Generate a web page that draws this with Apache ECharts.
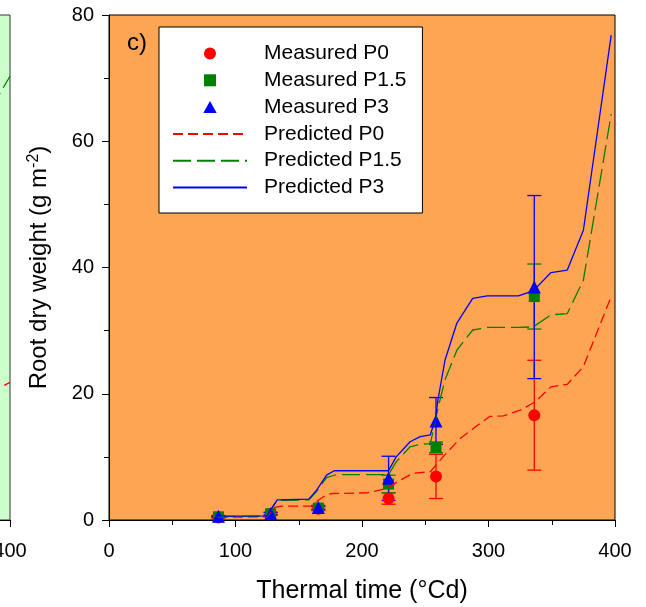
<!DOCTYPE html>
<html>
<head>
<meta charset="utf-8">
<script src="https://cdn.jsdelivr.net/npm/echarts@6/dist/echarts.min.js"></script>
<style>html,body{margin:0;padding:0;background:#fff}#c{width:646px;height:607px}</style>
</head>
<body>
<div id="c"></div>
<script>
// Measured thermal times (°Cd)
var measX = [86.5, 127.8, 165.5, 221, 258.5, 336.2];
// Measured root dry weight (g m-2) and SD
var measP0  = [0.4, 1.0, 1.8, 3.4, 6.9, 16.6];
var sdP0    = [0.1, 0.2, 0.3, 0.9, 3.5, 8.7];
var measP15 = [0.5, 1.0, 1.9, 5.7, 11.5, 35.4];
var sdP15   = [0.1, 0.2, 0.3, 1.4, 0.85, 5.15];
var measP3  = [0.6, 1.0, 2.0, 6.6, 15.7, 36.9];
var sdP3    = [0.1, 0.2, 0.3, 3.5, 3.7, 14.5];
// Predicted curves [thermal time, weight]
var predP0 = [[86,0.45],[125,0.5],[131,2.0],[136,2.2],[160,2.2],[166,3.2],[172,4.0],[177,4.2],[204,4.3],[219.5,5.0],[230,6.3],[240.5,7.4],[254,7.65],[264,10],[277.5,12.9],[290,14.8],[301,16.4],[311.7,16.5],[325,17.4],[336.8,18.7],[349.4,21.1],[362.3,21.5],[375,24.3],[397,35.4]];
var predP15 = [[86,0.55],[125,0.6],[129,1.9],[133,3.1],[158,3.2],[164,4.5],[172,6.7],[180,7.2],[221,7.2],[227,9.2],[238,11.6],[246,12.0],[254,12.1],[260.3,17.9],[265.6,22.2],[275,26.9],[287.5,30.1],[299,30.5],[323.6,30.5],[335.4,30.6],[349.4,32.5],[362.3,32.7],[375,38],[397,64.3]];
var predP3 = [[86,0.6],[125,0.65],[129,2.0],[133,3.2],[158,3.3],[164,4.7],[172,7.1],[178,7.8],[221,7.8],[227,10.0],[238,12.4],[246,13.2],[254,13.5],[258,16],[260,19],[265.6,25.3],[275,31.2],[287.5,35.1],[299,35.5],[323.6,35.5],[335.4,36.3],[349.4,39.2],[362.3,39.6],[375,45.9],[397,76.8]];
// Neighbouring panel (only its right edge is visible)
var leftPredP0 = [[385,20.2],[400,21.8]];
var leftPredP15 = [[385,65.2],[400,70.3]];

var xTicks = {min:0, max:400, interval:100};
var yTicks = {min:0, max:80, interval:20};

var FONT = 'Liberation Sans, Arial, sans-serif';
var RED = '#ff0000', GREEN = '#008000', BLUE = '#0000ff';

function pts(xs, ys){ return xs.map(function(x,i){ return [x, ys[i]]; }); }
function errs(xs, ys, sd){ return xs.map(function(x,i){ return [x, ys[i]-sd[i], ys[i]+sd[i]]; }); }
function errRender(color){
  return function(params, api){
    var x = api.value(0), lo = api.value(1), hi = api.value(2);
    var a = api.coord([x, lo]), b = api.coord([x, hi]);
    var w = 7, st = {stroke: color, lineWidth: 1.3};
    return {type:'group', children:[
      {type:'line', shape:{x1:a[0], y1:a[1], x2:b[0], y2:b[1]}, style:st},
      {type:'line', shape:{x1:a[0]-w, y1:a[1], x2:a[0]+w, y2:a[1]}, style:st},
      {type:'line', shape:{x1:b[0]-w, y1:b[1], x2:b[0]+w, y2:b[1]}, style:st}
    ]};
  };
}

var axisCommon = {
  axisLine:{show:true, onZero:false, lineStyle:{color:'#000', width:1}},
  axisTick:{show:true, inside:false, length:7, lineStyle:{color:'#000'}},
  minorTick:{show:true, splitNumber:2, length:5, lineStyle:{color:'#000'}},
  splitLine:{show:false}
};
var tickLabel = {color:'#000', fontSize:20, fontFamily:FONT};
var hiddenIcon = {color:'rgba(0,0,0,0)', borderColor:'rgba(0,0,0,0)', borderWidth:0, opacity:0};

var chart = echarts.init(document.getElementById('c'), null, {renderer:'canvas'});
chart.setOption({
  animation:false,
  backgroundColor:'#fff',
  grid:[
    {left:109, top:15, right:31, bottom:87, show:true, backgroundColor:'#fda553', borderColor:'#000', borderWidth:1, outerBoundsMode:'none', containLabel:false},
    {left:-496, top:15, width:506, bottom:87, show:true, backgroundColor:'#ccffcc', borderColor:'#333', borderWidth:1, outerBoundsMode:'none', containLabel:false}
  ],
  xAxis:[
    Object.assign({}, axisCommon, {gridIndex:0, type:'value', min:xTicks.min, max:xTicks.max, interval:xTicks.interval,
      axisLabel:Object.assign({margin:21}, tickLabel),
      name:'Thermal time (°Cd)', nameLocation:'middle', nameGap:59,
      nameTextStyle:{color:'#000', fontSize:25, fontFamily:FONT}}),
    Object.assign({}, axisCommon, {gridIndex:1, type:'value', min:xTicks.min, max:xTicks.max, interval:xTicks.interval,
      axisLabel:Object.assign({margin:21}, tickLabel)})
  ],
  yAxis:[
    Object.assign({}, axisCommon, {gridIndex:0, type:'value', min:yTicks.min, max:yTicks.max, interval:yTicks.interval,
      axisLabel:Object.assign({margin:15}, tickLabel),
      name:'Root dry weight (g m{sup|-2})', nameLocation:'middle', nameGap:57,
      nameTextStyle:{color:'#000', fontSize:24, fontFamily:FONT,
        rich:{sup:{fontSize:16, fontFamily:FONT, color:'#000', verticalAlign:'top', padding:[0,0,10,0]}}}}),
    Object.assign({}, axisCommon, {gridIndex:1, type:'value', min:yTicks.min, max:yTicks.max, interval:yTicks.interval, show:false})
  ],
  legend:{
    left:159, top:27, orient:'vertical', selectedMode:false,
    backgroundColor:'#fff', borderColor:'#000', borderWidth:1,
    padding:[16, 16, 15, 13], itemGap:5.8, itemWidth:74, itemHeight:12,
    symbolKeepAspect:true,
    textStyle:{color:'#000', fontSize:21, fontFamily:FONT, lineHeight:21, padding:[0,0,0,12]},
    data:[
      {name:'Measured P0', icon:'circle'},
      {name:'Measured P1.5', icon:'path://M0,0L10,0L10,10L0,10Z'},
      {name:'Measured P3', icon:'path://M5,0L10,9L0,9Z'},
      {name:'Predicted P0', itemStyle:hiddenIcon},
      {name:'Predicted P1.5', itemStyle:hiddenIcon},
      {name:'Predicted P3', itemStyle:hiddenIcon}
    ]
  },
  graphic:[{type:'text', left:127, top:31, style:{text:'c)', fontSize:24, fontFamily:FONT, fill:'#000'}}],
  series:[
    {type:'line', xAxisIndex:1, yAxisIndex:1, data:leftPredP0, symbol:'none', lineStyle:{color:RED, width:1.3, type:[10,5]}, silent:true},
    {type:'line', xAxisIndex:1, yAxisIndex:1, data:leftPredP15, symbol:'none', lineStyle:{color:GREEN, width:1.3, type:[18,6]}, silent:true},
    {name:'Predicted P0', type:'line', data:predP0, symbol:'none', itemStyle:{color:RED}, lineStyle:{color:RED, width:1.3, type:[10,5]}},
    {name:'Predicted P1.5', type:'line', data:predP15, symbol:'none', itemStyle:{color:GREEN}, lineStyle:{color:GREEN, width:1.3, type:[18,6]}},
    {name:'Predicted P3', type:'line', data:predP3, symbol:'none', itemStyle:{color:BLUE}, lineStyle:{color:BLUE, width:1.3}},
    {type:'custom', data:errs(measX, measP0, sdP0), renderItem:errRender(RED), encode:{x:0, y:[1,2]}, silent:true},
    {name:'Measured P0', type:'scatter', data:pts(measX, measP0), symbol:'circle', symbolSize:12, itemStyle:{color:RED, opacity:1}},
    {type:'custom', data:errs(measX, measP15, sdP15), renderItem:errRender(GREEN), encode:{x:0, y:[1,2]}, silent:true},
    {name:'Measured P1.5', type:'scatter', data:pts(measX, measP15), symbol:'rect', symbolSize:11, itemStyle:{color:GREEN, opacity:1}},
    {type:'custom', data:errs(measX, measP3, sdP3), renderItem:errRender(BLUE), encode:{x:0, y:[1,2]}, silent:true},
    {name:'Measured P3', type:'scatter', data:pts(measX, measP3), symbol:'triangle', symbolSize:13, itemStyle:{color:BLUE, opacity:1}}
  ]
});
</script>
</body>
</html>
